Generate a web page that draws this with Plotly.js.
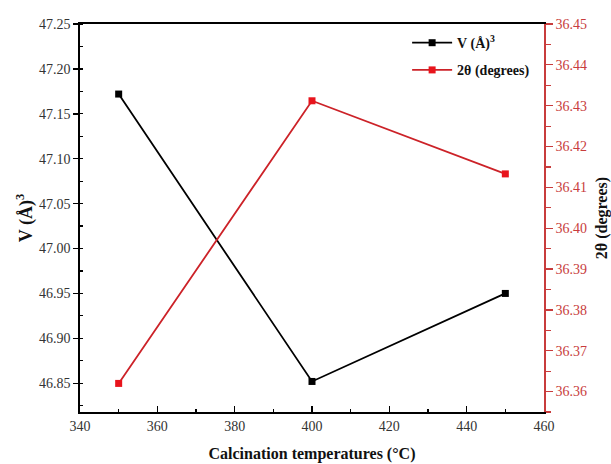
<!DOCTYPE html>
<html><head><meta charset="utf-8">
<script src="https://cdn.plot.ly/plotly-3.0.1.min.js"></script>
<style>body{margin:0;background:#fff}#c{width:611px;height:464px}</style>
</head><body><div id="c"></div>
<script>
const temps = [350, 400, 450];
const volume = [47.172, 46.852, 46.950];
const theta = [36.362, 36.4312, 36.4133];
const xTicks = [340, 360, 380, 400, 420, 440, 460];

const serif = "Liberation Serif, Times New Roman, serif";
const red = '#c83c3c';
const traces = [
  {x: temps, y: volume, name: 'V (Å)<sup>3</sup>', mode: 'lines+markers', legendgroup: 'a',
   line: {color: '#000', width: 1.8}, marker: {symbol: 'square', size: 7, color: '#000'}},
  {x: temps, y: theta, name: '2θ (degrees)', mode: 'lines+markers', yaxis: 'y2', legendgroup: 'b',
   line: {color: '#cc2228', width: 1.8}, marker: {symbol: 'square', size: 7, color: '#e8141c'}}
];
const layout = {
  width: 611, height: 464,
  margin: {l: 80, r: 67, t: 24, b: 52},
  paper_bgcolor: '#fff', plot_bgcolor: '#fff',
  font: {family: serif, size: 14, color: '#333'},
  showlegend: true,
  legend: {x: 0.705, y: 0.992, xanchor: 'left', yanchor: 'top', bgcolor: 'rgba(0,0,0,0)',
           traceorder: 'grouped', tracegroupgap: 6, itemwidth: 40,
           font: {family: serif, size: 14, color: '#111', weight: 'bold'}},
  xaxis: {range: [340, 460], tickvals: xTicks, ticks: 'inside', ticklen: 6, tickwidth: 1.5,
          tickcolor: '#000', showline: true, linecolor: '#000', linewidth: 1.8, mirror: true,
          showgrid: false, zeroline: false,
          minor: {dtick: 10, ticks: 'inside', ticklen: 3, tickwidth: 1.2, tickcolor: '#000'},
          title: {text: 'Calcination temperatures (°C)', standoff: 15,
                  font: {family: serif, size: 16, color: '#111', weight: 'bold'}}},
  yaxis: {range: [46.818, 47.25], dtick: 0.05, tick0: 46.85, tickformat: '.2f', ticks: 'outside',
          ticklen: 5, tickwidth: 1.5, tickcolor: '#000', showline: true, linecolor: '#000',
          linewidth: 1.8, showgrid: false, zeroline: false,
          minor: {dtick: 0.025, ticks: 'inside', ticklen: 3, tickwidth: 1.2, tickcolor: '#000'},
          title: {text: 'V (Å)<sup>3</sup>', standoff: 2,
                  font: {family: serif, size: 18, color: '#111', weight: 'bold'}}},
  yaxis2: {overlaying: 'y', side: 'right', range: [36.355, 36.45], dtick: 0.01, tick0: 36.36,
           tickformat: '.2f', ticks: 'outside', ticklen: 7, tickwidth: 1.3, tickcolor: red,
           showline: true, linecolor: red, linewidth: 1.8, showgrid: false, zeroline: false,
           tickfont: {color: red, size: 14, family: serif},
           minor: {dtick: 0.005, ticks: 'outside', ticklen: 5, tickwidth: 1.2, tickcolor: red},
           title: {text: '2θ (degrees)', standoff: 10,
                   font: {family: serif, size: 16, color: '#111', weight: 'bold'}}}
};
Plotly.newPlot('c', traces, layout, {displayModeBar: false, staticPlot: true});
</script></body></html>
